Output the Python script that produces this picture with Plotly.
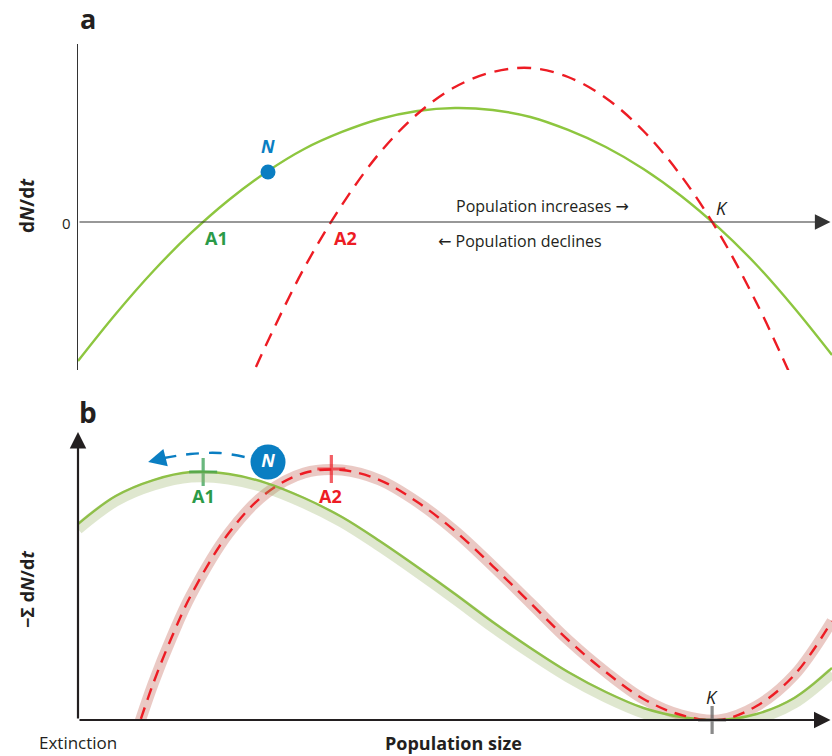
import plotly.graph_objects as go

# ---------------- data ----------------
# population size axis runs 0..100 (arbitrary units)
x_a_green = [0, 5, 10, 15, 20, 25, 30, 35, 40, 45, 50, 55, 60, 65, 70, 75, 80, 85, 90, 95, 100]
dndt_green = [-13.9, -9.2, -4.9, -1.1, 2.2, 5.0, 7.3, 9.0, 10.3, 11.1, 11.4, 11.2, 10.5, 9.2, 7.5, 5.3, 2.6, -0.6, -4.3, -8.6, -13.3]

x_a_red = [23.6, 25, 30, 35, 40, 45, 50, 55, 60, 65, 70, 75, 80, 85, 90, 94.3]
dndt_red = [-14.5, -12.2, -4.6, 1.7, 6.9, 10.8, 13.5, 15.0, 15.4, 14.5, 12.4, 9.1, 4.6, -1.1, -8.1, -15.0]

x_b_green = [0, 5, 10, 15, 20, 25, 30, 35, 40, 45, 50, 55, 60, 65, 70, 75, 80, 85, 90, 95, 100]
pot_green = [19.6, 22.4, 24.0, 24.8, 24.6, 23.7, 22.2, 20.3, 17.9, 15.3, 12.6, 9.8, 7.2, 4.8, 2.8, 1.2, 0.3, 0.0, 0.6, 2.2, 5.2]

x_b_red = [7.5, 10, 12.5, 15, 20, 25, 30, 35, 40, 45, 50, 55, 60, 65, 70, 75, 80, 85, 90, 95, 100]
pot_red = [-1.8, 3.7, 8.4, 12.5, 18.7, 22.7, 24.7, 25.0, 24.0, 21.8, 18.9, 15.4, 11.7, 8.0, 4.8, 2.1, 0.5, 0.0, 1.4, 4.5, 9.9]

eq_names = ["A1", "A2", "K"]
eq_x = [16.6, 33.6, 84.1]
eq_pot = [24.8, 25.1, 0.0]

n_x = 25.2
n_dndt = 5.0
n_pot = 25.8
n_path_x = [22.1, 18.8, 14.9, 11.4]
n_path_y = [26.3, 26.7, 26.6, 26.2]
n_tip = (9.3, 25.8)

# ---------------- styles ----------------
GREEN = "#8dc63f"
GREEN_TXT = "#2b9a48"
RED = "#ed1c24"
BLUE = "#0a7ec2"
DARK = "#231f20"
FONT = "Open Sans"

fig = go.Figure()

# panel a
fig.add_trace(go.Scatter(x=x_a_green, y=dndt_green, mode="lines", xaxis="x", yaxis="y",
                         line=dict(color=GREEN, width=2.4, shape="spline"), hoverinfo="skip"))
fig.add_trace(go.Scatter(x=x_a_red, y=dndt_red, mode="lines", xaxis="x", yaxis="y",
                         line=dict(color=RED, width=2.4, shape="spline", dash="14px,9px"), hoverinfo="skip"))
fig.add_trace(go.Scatter(x=[n_x], y=[n_dndt], mode="markers", xaxis="x", yaxis="y",
                         marker=dict(color=BLUE, size=15), cliponaxis=False, hoverinfo="skip"))

# panel b: translucent bands
fig.add_trace(go.Scatter(x=x_b_green, y=pot_green, mode="lines", xaxis="x2", yaxis="y3",
                         line=dict(color="rgba(150,175,95,0.30)", width=11, shape="spline"), hoverinfo="skip"))
fig.add_trace(go.Scatter(x=x_b_red, y=pot_red, mode="lines", xaxis="x2", yaxis="y2",
                         line=dict(color="rgba(195,100,85,0.35)", width=11, shape="spline"), hoverinfo="skip"))
fig.add_trace(go.Scatter(x=x_b_green, y=pot_green, mode="lines", xaxis="x2", yaxis="y2",
                         line=dict(color=GREEN, width=2.4, shape="spline"), hoverinfo="skip"))
fig.add_trace(go.Scatter(x=x_b_red, y=pot_red, mode="lines", xaxis="x2", yaxis="y2",
                         line=dict(color=RED, width=2.4, shape="spline", dash="12px,8px"), hoverinfo="skip"))

# equilibrium crosses
fig.add_trace(go.Scatter(x=eq_x, y=eq_pot, mode="markers", xaxis="x2", yaxis="y2", cliponaxis=False,
                         marker=dict(symbol="cross-thin", size=[20, 20, 20],
                                     line=dict(color=[GREEN_TXT, RED, "#5a5a5a"], width=3.2)),
                         hoverinfo="skip"))

# blue dashed movement arrow
fig.add_trace(go.Scatter(x=n_path_x, y=n_path_y, mode="lines", xaxis="x2", yaxis="y2", cliponaxis=False,
                         line=dict(color=BLUE, width=2.4, shape="spline", dash="13px,10px"), hoverinfo="skip"))
# N circle in b
fig.add_trace(go.Scatter(x=[n_x], y=[n_pot], mode="markers+text", xaxis="x2", yaxis="y2", cliponaxis=False,
                         marker=dict(color=BLUE, size=35),
                         text=["<b><i>N</i></b>"], textposition="middle center",
                         textfont=dict(color="white", size=18, family=FONT), hoverinfo="skip"))

ax_common = dict(showgrid=False, zeroline=False, showticklabels=False, ticks="", fixedrange=True)

fig.update_layout(
    width=832, height=756,
    margin=dict(l=78, r=0, t=44, b=36),
    paper_bgcolor="white", plot_bgcolor="white",
    showlegend=False,
    font=dict(family=FONT, color=DARK),
    xaxis=dict(domain=[0, 1], anchor="y", range=[0, 100], **ax_common),
    yaxis=dict(domain=[0.5178, 1], anchor="x", range=[-14.8, 17.8],
               showline=True, linecolor="#333333", linewidth=1, **ax_common),
    xaxis2=dict(domain=[0, 1], anchor="y2", range=[0, 100], **ax_common),
    yaxis2=dict(domain=[0, 0.426], anchor="x2", range=[0, 28.8], **ax_common),
    yaxis3=dict(domain=[0, 0.426], anchor="x2", overlaying="y2", range=[0.5, 29.3],
                visible=False, **ax_common),
)

ann = []
# axis arrows
ann.append(dict(x=99.8, y=0, ax=0, ay=0, xref="x", yref="y", axref="x", ayref="y", text="",
                showarrow=True, arrowhead=2, arrowsize=2.6, arrowwidth=1.2, arrowcolor="#333333"))
ann.append(dict(x=99.8, y=0, ax=0, ay=0, xref="x2", yref="y2", axref="x2", ayref="y2", text="",
                showarrow=True, arrowhead=2, arrowsize=1.5, arrowwidth=2.2, arrowcolor=DARK))
ann.append(dict(x=0, y=28.8, ax=0, ay=0, xref="x2", yref="y2", axref="x2", ayref="y2", text="",
                showarrow=True, arrowhead=2, arrowsize=1.5, arrowwidth=2.2, arrowcolor=DARK))
# blue arrowhead
ann.append(dict(x=n_tip[0], y=n_tip[1], ax=n_path_x[-1], ay=n_path_y[-1], xref="x2", yref="y2",
                axref="x2", ayref="y2", text="", showarrow=True, arrowhead=2, arrowsize=1.5,
                arrowwidth=2.4, arrowcolor=BLUE))


def txt(x, y, s, size, color=DARK, xref="paper", yref="paper", angle=0, xanchor="center"):
    ann.append(dict(x=x, y=y, xref=xref, yref=yref, text=s, showarrow=False, textangle=angle,
                    xanchor=xanchor, yanchor="middle", font=dict(size=size, color=color, family=FONT)))


def px(xp):
    return (xp - 78) / 754.0


def py(yp):
    return (720 - yp) / 676.0


RARR = '<span style="font-family:DejaVu Sans">→</span>'
LARR = '<span style="font-family:DejaVu Sans">←</span>'

txt(px(88), py(19), "<b>a</b>", 27)
txt(px(88), py(412), "<b>b</b>", 28)
txt(px(27), py(206), "<b>d<i>N</i>/d<i>t</i></b>", 19, angle=-90)
txt(px(27), py(590), "<b>−Σ d<i>N</i>/d<i>t</i></b>", 18, angle=-90)
txt(px(66), py(223), "0", 15)
txt(px(268), py(146), "<b><i>N</i></b>", 18, color=BLUE)
txt(px(216), py(238), "<b>A1</b>", 18, color=GREEN_TXT)
txt(px(345), py(238), "<b>A2</b>", 18, color=RED)
txt(px(722), py(208), "<i>K</i>", 18)
txt(px(542), py(206), "Population increases " + RARR, 16)
txt(px(520), py(241), LARR + " Population declines", 16)
txt(px(203), py(496), "<b>A1</b>", 18, color=GREEN_TXT)
txt(px(330), py(496), "<b>A2</b>", 18, color=RED)
txt(px(712), py(697), "<i>K</i>", 18)
txt(px(78), py(743), "Extinction", 17)
txt(px(453), py(743), "<b>Population size</b>", 18)

fig.update_layout(annotations=ann)

fig.write_html("out.html", config={"displayModeBar": False},
               post_script="document.body.style.margin='0px';document.body.style.overflow='hidden';")
